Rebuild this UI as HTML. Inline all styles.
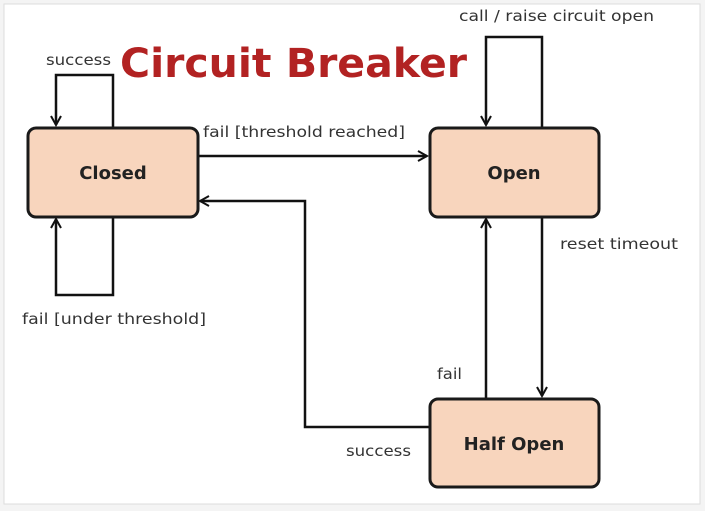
<!DOCTYPE html>
<html><head><style>
body{margin:0;width:705px;height:511px;background:#fff;overflow:hidden}
svg{display:block}
text{font-family:"DejaVu Sans","Liberation Sans",sans-serif}
</style></head><body>
<svg width="705" height="511" viewBox="0 0 705 511">
<defs><marker id="a" markerWidth="12" markerHeight="12" refX="10" refY="6" orient="auto" markerUnits="userSpaceOnUse"><path d="M1,1 L10,6 L1,11" fill="none" stroke="#111" stroke-width="2"/></marker></defs>
<rect x="0" y="0" width="705" height="511" fill="#f4f4f4"/>
<rect x="4" y="4" width="696" height="500" fill="#fff" stroke="#ddd"/>
<g fill="none" stroke="#111" stroke-width="2.5">
<path d="M113,127 V75 H56 V125" marker-end="url(#a)"/>
<path d="M113,217 V295 H56 V219" marker-end="url(#a)"/>
<path d="M542,127 V37 H486 V125" marker-end="url(#a)"/>
<path d="M198,156 H427" marker-end="url(#a)"/>
<path d="M429,427 H305 V201 H200" marker-end="url(#a)"/>
<path d="M486,398 V219" marker-end="url(#a)"/>
<path d="M542,217 V396" marker-end="url(#a)"/>
</g>
<g fill="#f8d5bd" stroke="#1a1a1a" stroke-width="3">
<rect x="28" y="128" width="170" height="89" rx="8"/>
<rect x="430" y="128" width="169" height="89" rx="8"/>
<rect x="430" y="399" width="169" height="88" rx="8"/>
</g>
<g font-weight="bold" font-size="18" fill="#222" text-anchor="middle">
<text x="113" y="179">Closed</text>
<text x="514" y="179">Open</text>
<text x="514" y="450">Half Open</text>
</g>
<g font-size="15" fill="#333" lengthAdjust="spacingAndGlyphs">
<text x="46" y="65" textLength="65" lengthAdjust="spacingAndGlyphs">success</text>
<text x="459" y="21" textLength="195" lengthAdjust="spacingAndGlyphs">call / raise circuit open</text>
<text x="203" y="137" textLength="202" lengthAdjust="spacingAndGlyphs">fail [threshold reached]</text>
<text x="560" y="249" textLength="118" lengthAdjust="spacingAndGlyphs">reset timeout</text>
<text x="22" y="324" textLength="184" lengthAdjust="spacingAndGlyphs">fail [under threshold]</text>
<text x="437" y="379" textLength="25" lengthAdjust="spacingAndGlyphs">fail</text>
<text x="346" y="456" textLength="65" lengthAdjust="spacingAndGlyphs">success</text>
</g>
<text x="120" y="77" textLength="347" lengthAdjust="spacingAndGlyphs" font-family="Liberation Sans,sans-serif" font-weight="bold" font-size="40" fill="#b22222">Circuit Breaker</text>
</svg>
</body></html>
